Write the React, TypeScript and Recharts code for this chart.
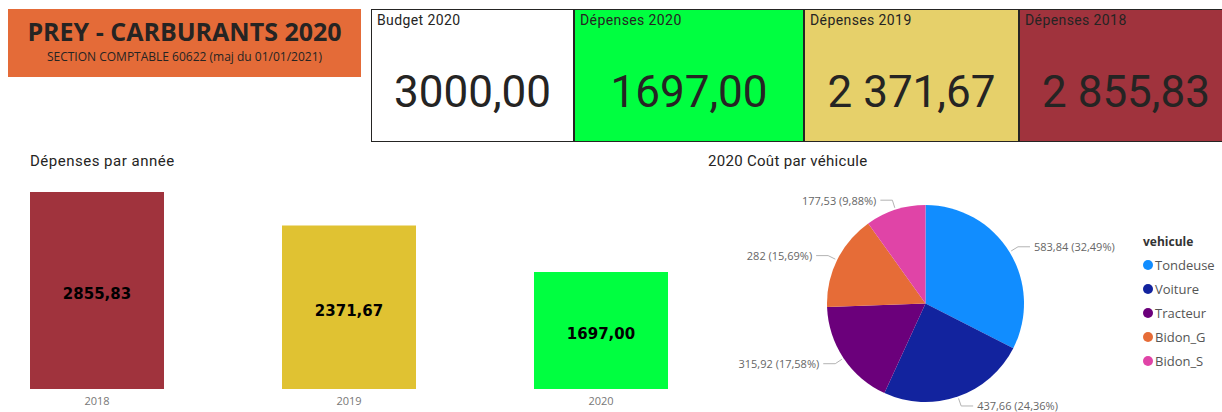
import { BarChart, Bar, XAxis, YAxis, Cell, LabelList, PieChart, Pie, Legend } from "recharts";

const years = ["2018", "2019", "2020"];
const yearSpend = [2855.83, 2371.67, 1697.0];

const vehicles = ["Tondeuse", "Voiture", "Tracteur", "Bidon_G", "Bidon_S"];
const vehicleCost = [583.84, 437.66, 315.92, 282, 177.53];

const kpiLabels = ["Budget 2020", "Dépenses 2020", "Dépenses 2019", "Dépenses 2018"];
const kpiValues = [3000, 1697, 2371.67, 2855.83];
const kpiGrouped = [false, false, true, true];

const yearColors = ["#A0333D", "#E0C232", "#00FF40"];
const vehicleColors = ["#118DFF", "#12239E", "#6B007B", "#E66C37", "#E044A7"];
const kpiColors = ["#FFFFFF", "#00FF40", "#E6D06A", "#A0333D"];

const DIN = "Roboto, 'DejaVu Sans', sans-serif";
const SEGOE = "'Open Sans', 'Noto Sans', sans-serif";

const barData = years.map((y, i) => ({ year: y, spend: yearSpend[i] }));
const pieData = vehicles.map((v, i) => ({ name: v, value: vehicleCost[i] }));
const pieTotal = vehicleCost.reduce((a, b) => a + b, 0);

function fmt(v: number, grouped = false): string {
  const [int, dec] = v.toFixed(2).split(".");
  const intPart = grouped ? int.replace(/\B(?=(\d{3})+(?!\d))/g, " ") : int;
  return `${intPart},${dec}`;
}

function fmtShort(v: number): string {
  return Number.isInteger(v) ? String(v) : v.toFixed(2).replace(".", ",");
}

const RADIAN = Math.PI / 180;

function renderPieLabel(props: any) {
  const { cx, cy, midAngle, outerRadius, value } = props;
  const cos = Math.cos(-midAngle * RADIAN);
  const sin = Math.sin(-midAngle * RADIAN);
  const x0 = cx + (outerRadius + 2) * cos;
  const y0 = cy + (outerRadius + 2) * sin;
  const x1 = cx + (outerRadius + 10) * cos;
  const y1 = cy + (outerRadius + 10) * sin;
  const dir = cos >= 0 ? 1 : -1;
  // near-vertical slices get a longer horizontal tail
  const tail = Math.abs(cos) < 0.25 ? 22 : 12;
  const x2 = x1 + dir * tail;
  const pct = ((value / pieTotal) * 100).toFixed(2).replace(".", ",");
  return (
    <g>
      <polyline points={`${x0},${y0} ${x1},${y1} ${x2},${y1}`} fill="none" stroke="#B3B3B3" strokeWidth={1} />
      <text
        x={x2 + dir * 4}
        y={y1}
        textAnchor={dir > 0 ? "start" : "end"}
        dominantBaseline="central"
        fill="#666666"
        fontSize={11}
        fontFamily={SEGOE}
      >
        {`${fmtShort(value)} (${pct}%)`}
      </text>
    </g>
  );
}

function VehicleLegend() {
  return (
    <div style={{ fontFamily: SEGOE }}>
      <div style={{ fontWeight: 700, fontSize: 12, color: "#333", height: 20 }}>vehicule</div>
      {vehicles.map((v, i) => (
        <div key={v} style={{ display: "flex", alignItems: "center", height: 24, fontSize: 13, color: "#555" }}>
          <span
            style={{
              width: 10,
              height: 10,
              borderRadius: 5,
              background: vehicleColors[i],
              display: "inline-block",
              marginRight: 2,
            }}
          />
          {v}
        </div>
      ))}
    </div>
  );
}

export default function App() {
  return (
    <div
      style={{
        position: "absolute",
        left: 0,
        top: 0,
        width: 1222,
        height: 412,
        overflow: "hidden",
        background: "#fff",
      }}
    >
      {/* title block */}
      <div
        style={{
          position: "absolute",
          left: 8,
          top: 9,
          width: 353,
          height: 68,
          background: "#E46B38",
          textAlign: "center",
          color: "#252423",
          fontFamily: SEGOE,
        }}
      >
        <div style={{ fontSize: 25, fontWeight: 700, marginTop: 6, lineHeight: "32px" }}>PREY - CARBURANTS 2020</div>
        <div style={{ fontSize: 12, lineHeight: "16px", marginTop: 2 }}>SECTION COMPTABLE 60622 (maj du 01/01/2021)</div>
      </div>

      {/* kpi cards */}
      {kpiLabels.map((label, i) => {
        const lefts = [371, 574, 804, 1019];
        const widths = [203, 230, 215, 214];
        return (
          <div
            key={label}
            style={{
              position: "absolute",
              left: lefts[i],
              top: 9,
              width: widths[i],
              height: 133,
              boxSizing: "border-box",
              border: "1.5px solid #252423",
              background: kpiColors[i],
              fontFamily: DIN,
              color: "#252423",
            }}
          >
            <div style={{ position: "absolute", left: 5, top: 2, fontSize: 14, letterSpacing: 0.4 }}>{label}</div>
            <div
              style={{
                position: "absolute",
                left: 0,
                right: 0,
                top: 58,
                textAlign: "center",
                fontSize: 44,
                lineHeight: "48px",
              }}
            >
              {fmt(kpiValues[i], kpiGrouped[i])}
            </div>
          </div>
        );
      })}

      {/* bar chart */}
      <div style={{ position: "absolute", left: 30, top: 152, fontFamily: DIN, fontSize: 15, color: "#252423", letterSpacing: 0.5 }}>
        Dépenses par année
      </div>
      <div style={{ position: "absolute", left: -29, top: 150 }}>
        <BarChart width={756} height={270} data={barData} margin={{ top: 42, right: 0, left: 0, bottom: 0 }}>
          <XAxis
            dataKey="year"
            axisLine={false}
            tickLine={false}
            height={31}
            tick={{ fill: "#777", fontSize: 11, fontFamily: SEGOE }}
          />
          <YAxis hide domain={[0, "dataMax"]} />
          <Bar dataKey="spend" barSize={134} isAnimationActive={false}>
            {barData.map((d, i) => (
              <Cell key={d.year} fill={yearColors[i]} />
            ))}
            <LabelList
              dataKey="spend"
              position="center"
              offset={0}
              formatter={(v: any) => fmt(Number(v))}
              style={{
                fill: "#000",
                fontSize: 15,
                fontWeight: 700,
                fontFamily: "'DejaVu Sans', sans-serif",
                transform: "translateY(3px)",
              }}
            />
          </Bar>
        </BarChart>
      </div>

      {/* pie chart */}
      <div style={{ position: "absolute", left: 708, top: 152, fontFamily: DIN, fontSize: 15, color: "#252423", letterSpacing: 0.3 }}>
        2020 Coût par véhicule
      </div>
      <div style={{ position: "absolute", left: 700, top: 150 }}>
        <PieChart width={522} height={262} margin={{ top: 0, right: 0, left: 0, bottom: 0 }}>
          <Pie
            data={pieData}
            dataKey="value"
            nameKey="name"
            cx={225.5}
            cy={153.5}
            outerRadius={98.5}
            startAngle={90}
            endAngle={-270}
            stroke="none"
            labelLine={false}
            label={renderPieLabel}
            isAnimationActive={false}
          >
            {pieData.map((d, i) => (
              <Cell key={d.name} fill={vehicleColors[i]} />
            ))}
          </Pie>
          <Legend
            layout="vertical"
            align="right"
            verticalAlign="top"
            content={() => <VehicleLegend />}
            wrapperStyle={{ left: 443, top: 83, width: 80 }}
          />
        </PieChart>
      </div>
    </div>
  );
}
